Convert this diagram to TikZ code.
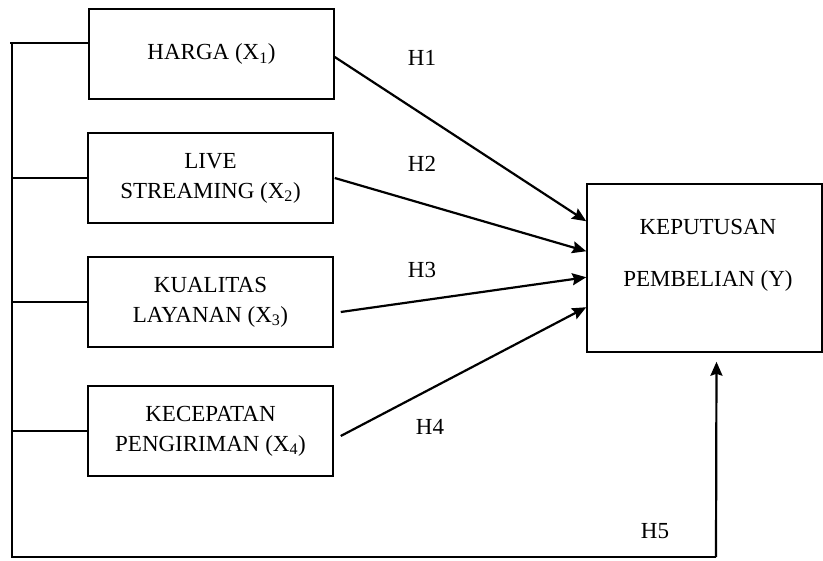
\documentclass[tikz,border=0pt]{standalone}
\usepackage{fontspec}
\setmainfont{Liberation Serif}
\usetikzlibrary{arrows.meta,calc}
\begin{document}
\begin{tikzpicture}[x=1pt,y=-1pt,
  varbox/.style={draw,line width=1.5pt,minimum width=245pt,minimum height=90pt,align=center,
    inner sep=0pt,font=\fontsize{23}{30}\selectfont},
  hlabel/.style={font=\fontsize{23}{25}\selectfont,inner sep=0pt},
  arr/.style={line width=2.2pt,-{Stealth[length=14pt,width=12pt,inset=2pt]}},
  frame/.style={line width=2.6pt}]
\useasboundingbox (0,0) rectangle (823,561);
\node[varbox] (h1) at (211.5,54) {HARGA (X\textsubscript{1})};
\node[varbox] (h2) at (210.5,178) {LIVE\\STREAMING (X\textsubscript{2})};
\node[varbox] (h3) at (210.5,302) {KUALITAS\\LAYANAN (X\textsubscript{3})};
\node[varbox] (h4) at (210.5,431) {KECEPATAN\\PENGIRIMAN (X\textsubscript{4})};
\node[draw,line width=1.5pt,minimum width=235pt,minimum height=168pt,inner sep=0pt] (Y) at (704.5,268) {};
\node[align=center,inner sep=0pt,font=\fontsize{23}{52}\selectfont] (Ytext) at (708,255) {KEPUTUSAN\\PEMBELIAN (Y)};
% labels
\node[hlabel] (l1) at (422,58) {H1};
\node[hlabel] (l2) at (422,164) {H2};
\node[hlabel] (l3) at (422,270) {H3};
\node[hlabel] (l4) at (430,427) {H4};
\node[hlabel] (l5) at (655,531) {H5};
% arrows
\draw[arr] ($(h1.east)+(0,3)$) -- ([yshift=-38pt]Y.north west);
\draw[arr] ($(h2.east)+(1,0)$) -- ([yshift=-68pt]Y.north west);
\draw[arr] ($(h3.east)+(7,10)$) -- ([yshift=-94pt]Y.north west);
\draw[arr] ($(h4.east)+(7,5)$) -- ([yshift=-124pt]Y.north west);
% left frame
\coordinate (tl) at (12,43);
\coordinate (bl) at (12,557);
\coordinate (br) at (716,557);
\coordinate (y5) at ($(Y.south)+(12,9)$);
\draw[frame] ($(h1.west)+(0,-11)$) -- (10,43);
\draw[frame] (tl) -- (bl) -- (br);
\draw[arr] (br) -- (y5);
\draw[frame] (h2.west) -- (h2.west -| tl);
\draw[frame] (h3.west) -- (h3.west -| tl);
\draw[frame] (h4.west) -- (h4.west -| tl);
\end{tikzpicture}
\end{document}
